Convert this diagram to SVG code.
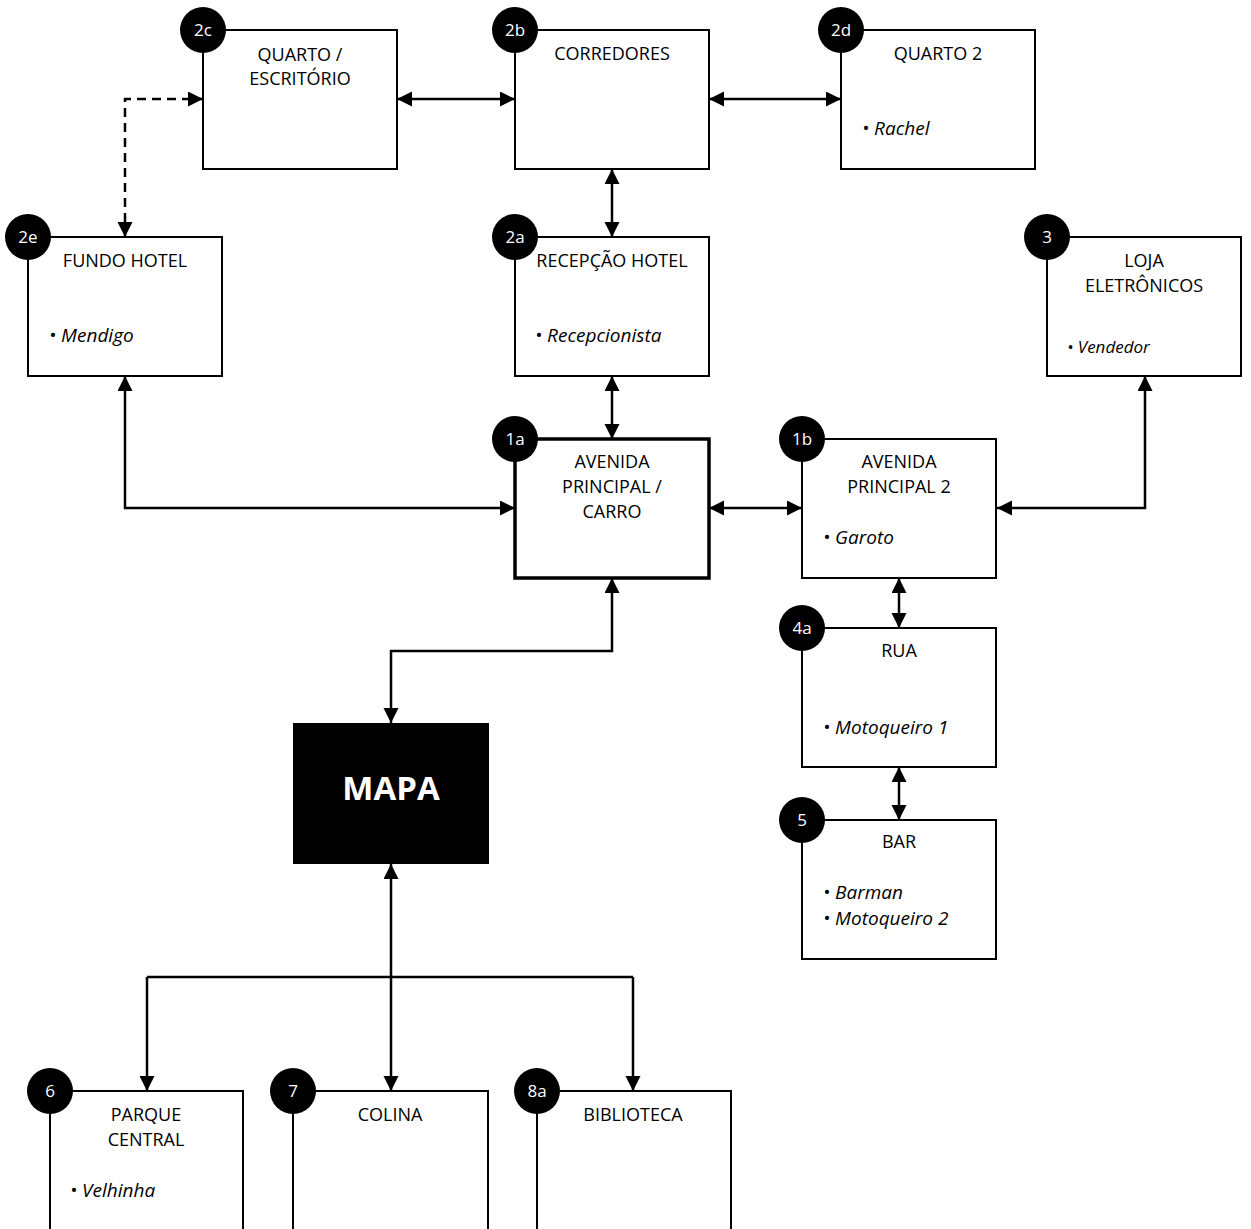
<svg xmlns="http://www.w3.org/2000/svg" width="1251" height="1229" viewBox="0 0 1251 1229">
<style>
.box{fill:#fff;stroke:#000;stroke-width:2}
.thick{stroke-width:3.5}
.badge{fill:#000}
.bt{fill:#fff;font-family:"Open Sans","Liberation Sans",sans-serif;font-size:17px;text-anchor:middle}
.t{fill:#000;font-family:"Open Sans","Liberation Sans",sans-serif;font-size:18px;text-anchor:middle}
.li{fill:#000;font-family:"Open Sans","Liberation Sans",sans-serif;font-size:19px;font-style:italic}
.sm{font-size:17px}
.c{fill:none;stroke:#000;stroke-width:2.5;marker-start:url(#ah);marker-end:url(#ah)}
.d{stroke-dasharray:9,6}
.ln{fill:none;stroke:#000;stroke-width:2.5}
</style>
<defs>
<marker id="ah" markerUnits="userSpaceOnUse" markerWidth="16" markerHeight="16" refX="15" refY="7.5" orient="auto-start-reverse">
<path d="M0,0 L15,7.5 L0,15 z" fill="#000"/>
</marker>
<marker id="ahd" markerUnits="userSpaceOnUse" markerWidth="16" markerHeight="16" refX="15" refY="7.5" orient="auto">
<path d="M0,0 L15,7.5 L0,15 z" fill="#000"/>
</marker>
</defs>
<rect width="1251" height="1229" fill="#fff"/>
<g id="connectors">
<path class="c" d="M397,99 H515"/>
<path class="c" d="M709,99 H841"/>
<path class="c" d="M612,169 V237"/>
<path class="c" d="M612,376 V439"/>
<path class="c d" d="M125,237 V99 H203"/>
<path class="c" d="M125,376 V508 H515"/>
<path class="c" d="M709,508 H802"/>
<path class="c" d="M1145,376 V508 H997"/>
<path class="c" d="M899,578 V628"/>
<path class="c" d="M899,767 V820"/>
<path class="c" d="M612,578 V651 H391 V723"/>
<path class="c" d="M391,864 V1091"/>
<path class="ln" d="M147,977 H633"/>
<path class="ln" d="M147,977 V1091" marker-end="url(#ahd)"/>
<path class="ln" d="M633,977 V1091" marker-end="url(#ahd)"/>
</g>
<g id="n2c">
<rect class="box" x="203" y="30" width="194" height="139"/>
<circle class="badge" cx="203" cy="30" r="23"/><text class="bt" x="203" y="36">2c</text>
<text class="t" x="300" y="61">QUARTO /</text>
<text class="t" x="300" y="85">ESCRITÓRIO</text>
</g>
<g id="n2b">
<rect class="box" x="515" y="30" width="194" height="139"/>
<circle class="badge" cx="515" cy="30" r="23"/><text class="bt" x="515" y="36">2b</text>
<text class="t" x="612" y="60">CORREDORES</text>
</g>
<g id="n2d">
<rect class="box" x="841" y="30" width="194" height="139"/>
<circle class="badge" cx="841" cy="30" r="23"/><text class="bt" x="841" y="36">2d</text>
<text class="t" x="938" y="60">QUARTO 2</text>
<text class="li" x="862" y="135">• Rachel</text>
</g>
<g id="n2e">
<rect class="box" x="28" y="237" width="194" height="139"/>
<circle class="badge" cx="28" cy="237" r="23"/><text class="bt" x="28" y="243">2e</text>
<text class="t" x="125" y="267">FUNDO HOTEL</text>
<text class="li" x="49" y="342">• Mendigo</text>
</g>
<g id="n2a">
<rect class="box" x="515" y="237" width="194" height="139"/>
<circle class="badge" cx="515" cy="237" r="23"/><text class="bt" x="515" y="243">2a</text>
<text class="t" x="612" y="267">RECEPÇÃO HOTEL</text>
<text class="li" x="535" y="342">• Recepcionista</text>
</g>
<g id="n3">
<rect class="box" x="1047" y="237" width="194" height="139"/>
<circle class="badge" cx="1047" cy="237" r="23"/><text class="bt" x="1047" y="243">3</text>
<text class="t" x="1144" y="267">LOJA</text>
<text class="t" x="1144" y="292">ELETRÔNICOS</text>
<text class="li sm" x="1067" y="353">• Vendedor</text>
</g>
<g id="n1a">
<rect class="box thick" x="515" y="439" width="194" height="139"/>
<circle class="badge" cx="515" cy="439" r="23"/><text class="bt" x="515" y="445">1a</text>
<text class="t" x="612" y="468">AVENIDA</text>
<text class="t" x="612" y="493">PRINCIPAL /</text>
<text class="t" x="612" y="518">CARRO</text>
</g>
<g id="n1b">
<rect class="box" x="802" y="439" width="194" height="139"/>
<circle class="badge" cx="802" cy="439" r="23"/><text class="bt" x="802" y="445">1b</text>
<text class="t" x="899" y="468">AVENIDA</text>
<text class="t" x="899" y="493">PRINCIPAL 2</text>
<text class="li" x="823" y="544">• Garoto</text>
</g>
<g id="n4a">
<rect class="box" x="802" y="628" width="194" height="139"/>
<circle class="badge" cx="802" cy="628" r="23"/><text class="bt" x="802" y="634">4a</text>
<text class="t" x="899" y="657">RUA</text>
<text class="li" x="823" y="734">• Motoqueiro 1</text>
</g>
<g id="n5">
<rect class="box" x="802" y="820" width="194" height="139"/>
<circle class="badge" cx="802" cy="820" r="23"/><text class="bt" x="802" y="826">5</text>
<text class="t" x="899" y="848">BAR</text>
<text class="li" x="823" y="899">• Barman</text>
<text class="li" x="823" y="925">• Motoqueiro 2</text>
</g>
<g id="mapa">
<rect x="293" y="723" width="196" height="141" fill="#000"/>
<text x="391" y="800" fill="#fff" font-family="'Open Sans','Liberation Sans',sans-serif" font-size="33" font-weight="bold" text-anchor="middle">MAPA</text>
</g>
<g id="n6">
<rect class="box" x="50" y="1091" width="193" height="160"/>
<circle class="badge" cx="50" cy="1091" r="23"/><text class="bt" x="50" y="1097">6</text>
<text class="t" x="146" y="1121">PARQUE</text>
<text class="t" x="146" y="1146">CENTRAL</text>
<text class="li" x="70" y="1197">• Velhinha</text>
</g>
<g id="n7">
<rect class="box" x="293" y="1091" width="195" height="160"/>
<circle class="badge" cx="293" cy="1091" r="23"/><text class="bt" x="293" y="1097">7</text>
<text class="t" x="390" y="1121">COLINA</text>
</g>
<g id="n8a">
<rect class="box" x="537" y="1091" width="194" height="160"/>
<circle class="badge" cx="537" cy="1091" r="23"/><text class="bt" x="537" y="1097">8a</text>
<text class="t" x="633" y="1121">BIBLIOTECA</text>
</g>
</svg>
